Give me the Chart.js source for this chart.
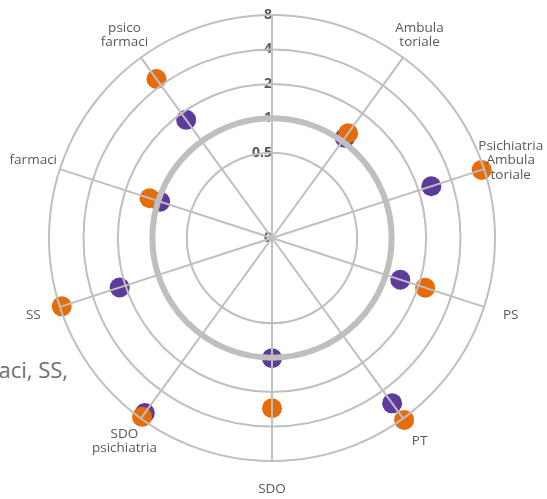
<!DOCTYPE html>
<html>
<head>
<meta charset="utf-8">
<script src="https://cdn.jsdelivr.net/npm/chart.js@4"></script>
<style>
  html, body { margin: 0; padding: 0; background: #fff; overflow: hidden; width: 547px; height: 499px; }
  #wrap { position: relative; width: 547px; height: 499px; }
  #bgtext { position: absolute; right: 479px; top: 356px; white-space: nowrap; font: 22px "Open Sans", sans-serif; color: #6f6f6f; line-height: 26px; }
  canvas { position: absolute; left: 0; top: 0; }
</style>
</head>
<body>
<div id="wrap">
  <div id="bgtext">farmaci, SS,</div>
  <canvas id="c" width="547" height="499"></canvas>
</div>
<script>
// Categories (clockwise from top)
const categories = [
  '',
  ['Ambula', 'toriale'],
  ['Psichiatria', 'Ambula', 'toriale'],
  'PS',
  'PT',
  'SDO',
  ['SDO', 'psichiatria'],
  'SS',
  'farmaci',
  ['psico', 'farmaci']
];
// Series values (log-2 radial scale)
const orangeValues = [null, 1.22, 7.6, 2.30, 8.3, 2.77, 7.7, 7.7, 1.2, 4.7];
const purpleValues = [null, 1.09, 2.62, 1.36, 5.5, 1.01, 7.0, 2.26, 0.96, 1.70];
// Tick values and labels
const tickValues = [0.09, 0.5, 1, 2, 4, 8];
const tickLabels = ['0', '0.5', '1', '2', '4', '8'];

const log2 = v => (v === null ? null : Math.log2(v));
const pad = s => s + s.replace(/[0-9]/g, '\u2007').replace(/\./g, '\u2008');

const catLabelPlugin = {
  id: 'catLabels',
  afterDraw(chart) {
    const s = chart.scales.r;
    const ctx = chart.ctx;
    ctx.save();
    ctx.font = '13.5px "Open Sans"';
    ctx.fillStyle = '#595959';
    ctx.textAlign = 'center';
    ctx.textBaseline = 'middle';
    chart.data.labels.forEach((lab, i) => {
      const lines = Array.isArray(lab) ? lab : [lab];
      const p = s.getPointPosition(i, s.drawingArea + 28);
      const lh = 14.5;
      lines.forEach((t, k) => ctx.fillText(t, p.x, p.y + (k - (lines.length - 1) / 2) * lh));
    });
    ctx.restore();
  }
};

new Chart(document.getElementById('c'), {
  type: 'radar',
  data: {
    labels: categories,
    datasets: [
      {
        label: 'A',
        data: orangeValues.map(log2),
        borderWidth: 0,
        borderColor: 'transparent',
        backgroundColor: 'transparent',
        fill: false,
        pointRadius: 10,
        pointBorderWidth: 0,
        pointBackgroundColor: '#E46C0A'
      },
      {
        label: 'B',
        data: purpleValues.map(log2),
        borderWidth: 0,
        borderColor: 'transparent',
        backgroundColor: 'transparent',
        fill: false,
        pointRadius: 10,
        pointBorderWidth: 0,
        pointBackgroundColor: '#5D3A9B'
      }
    ]
  },
  options: {
    responsive: false,
    animation: false,
    layout: { padding: { left: 42, top: 8, right: 45, bottom: 31 } },
    plugins: { legend: { display: false }, tooltip: { enabled: false } },
    scales: {
      r: {
        min: Math.log2(tickValues[0]),
        max: Math.log2(tickValues[tickValues.length - 1]),
        afterBuildTicks: axis => { axis.ticks = tickValues.map(v => ({ value: Math.log2(v) })); },
        grid: {
          circular: true,
          color: '#BFBFBF',
          lineWidth: ctx => (ctx.tick && Math.abs(ctx.tick.value) < 1e-9 ? 6 : 2),
          z: 1
        },
        angleLines: { color: '#BFBFBF', lineWidth: 2 },
        pointLabels: { display: false },
        ticks: {
          showLabelBackdrop: false,
          backdropPadding: 0,
          color: '#595959',
          font: { family: 'Open Sans', size: 14, weight: 'bold' },
          callback: (v, i) => pad(tickLabels[i])
        }
      }
    }
  },
  plugins: [catLabelPlugin]
});
</script>
</body>
</html>
